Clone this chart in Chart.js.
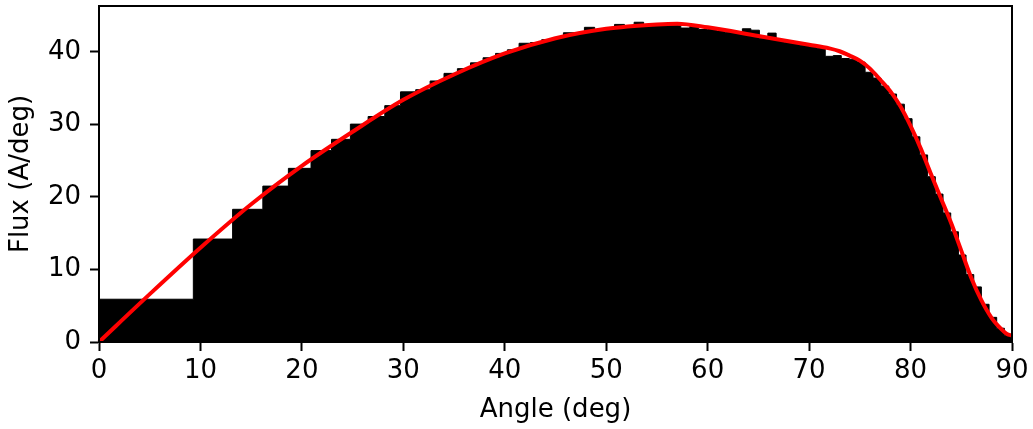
<!DOCTYPE html>
<html>
<head>
<meta charset="utf-8">
<script src="https://cdn.jsdelivr.net/npm/chart.js@4.4.1/dist/chart.umd.min.js"></script>
<style>
  html, body { margin: 0; padding: 0; background: #fff; }
</style>
</head>
<body>
<canvas id="flux" width="1033" height="429"></canvas>
<script>
// bin edges (deg)
var binEdges = [0, 9.30, 13.17, 16.15, 18.67, 20.90, 22.92, 24.78, 26.53, 28.17, 29.72,
  31.22, 32.64, 34.01, 35.33, 36.62, 37.86, 39.09, 40.26, 41.41, 42.53,
  43.64, 44.72, 45.78, 46.82, 47.85, 48.86, 49.85, 50.82, 51.80, 52.75,
  53.69, 54.62, 55.54, 56.45, 57.35, 58.24, 59.12, 60.00, 60.87, 61.73,
  62.58, 63.42, 64.26, 65.10, 65.93, 66.75, 67.57, 68.38, 69.19, 69.99,
  70.80, 71.59, 72.38, 73.17, 73.96, 74.74, 75.52, 76.30, 77.08, 77.85,
  78.62, 79.39, 80.15, 80.92, 81.68, 82.44, 83.20, 83.96, 84.72, 85.47,
  86.23, 86.98, 87.74, 88.49, 89.25, 90];

// histogram heights (A/deg), one per bin
var binFlux = [5.9, 14.2, 18.3, 21.5, 23.95, 26.4, 27.95, 30.05, 31.1, 32.6,
  34.5, 34.8, 36.0, 37.05, 37.7, 38.5, 39.2, 39.8, 40.3, 41.2,
  41.3, 41.7, 42.0, 42.65, 42.6, 43.4, 43.0, 43.2, 43.8, 43.5,
  44.1, 43.6, 43.7, 43.8, 43.7, 43.3, 43.5, 43.1, 43.1, 42.9,
  42.7, 42.6, 43.2, 43.0, 41.9, 42.6, 41.6, 41.3, 41.1, 40.9,
  40.7, 40.5, 39.4, 39.5, 39.1, 39.0, 38.6, 37.2, 36.4, 35.3,
  34.2, 32.8, 30.8, 28.3, 25.8, 22.8, 20.4, 17.8, 15.2, 12.0,
  9.3, 7.6, 5.2, 3.4, 1.9, 0.9];

// smooth model curve
var curveAngle = [0, 5, 10, 15, 20, 25, 30, 35, 40, 45, 50, 55, 57, 60, 65, 70, 72, 73, 74,
  75, 76, 77, 78, 79, 80, 81, 82, 83, 84, 85, 86, 87, 88, 89, 89.5, 90];
var curveFlux = [0, 6.6, 13.0, 19.0, 24.3, 29.0, 33.4, 36.9, 39.8, 41.9, 43.2, 43.8, 43.9, 43.4,
  42.2, 41.0, 40.5, 40.1, 39.5, 38.8, 37.7, 36.2, 34.6, 32.5, 29.8, 26.7, 23.2, 19.8,
  16.4, 12.6, 8.8, 5.7, 3.3, 1.7, 1.1, 0.9];

var xTicks = [0, 10, 20, 30, 40, 50, 60, 70, 80, 90];
var yTicks = [0, 10, 20, 30, 40];

var histPts = [];
for (var i = 0; i < binFlux.length; i++) {
  histPts.push({x: binEdges[i], y: binFlux[i]});
}
histPts.push({x: binEdges[binEdges.length - 1], y: binFlux[binFlux.length - 1]});

var curvePts = curveAngle.map(function(a, i) { return {x: a, y: curveFlux[i]}; });

var font = {family: 'DejaVu Sans', size: 26};

// full box round the plot, like matplotlib spines
var frame = {
  id: 'frame',
  afterDraw: function(chart) {
    var a = chart.chartArea, c = chart.ctx;
    c.save();
    c.strokeStyle = '#000';
    c.lineWidth = 2;
    c.strokeRect(a.left, a.top, a.right - a.left, a.bottom - a.top);
    c.restore();
  }
};

function noPad(s) {
  s.paddingTop = 0; s.paddingBottom = 0; s.paddingLeft = 0; s.paddingRight = 0;
}

new Chart(document.getElementById('flux'), {
  type: 'line',
  data: {
    datasets: [
      {
        data: curvePts,
        borderColor: '#ff0000',
        borderWidth: 4,
        pointRadius: 0,
        fill: false,
        cubicInterpolationMode: 'monotone',
        clip: false,
        order: 0
      },
      {
        data: histPts,
        stepped: true,
        borderColor: '#000',
        borderWidth: 1,
        backgroundColor: '#000',
        pointRadius: 0,
        fill: 'origin',
        order: 1
      }
    ]
  },
  options: {
    responsive: false,
    animation: false,
    devicePixelRatio: 1,
    layout: {padding: {left: 0, right: 21, top: 6, bottom: 0}},
    plugins: {legend: {display: false}, tooltip: {enabled: false}},
    events: [],
    scales: {
      x: {
        type: 'linear',
        min: 0,
        max: 90,
        afterBuildTicks: function(s) { s.ticks = xTicks.map(function(v) { return {value: v}; }); },
        afterFit: function(s) { s.height = 87; noPad(s); },
        grid: {drawOnChartArea: false, tickLength: 9, tickWidth: 2, tickColor: '#000'},
        border: {display: true, color: '#000', width: 2},
        ticks: {color: '#000', font: font, padding: 5, maxRotation: 0},
        title: {display: true, text: 'Angle (deg)', color: '#000', font: font, padding: {top: 0, bottom: 3}}
      },
      y: {
        type: 'linear',
        min: 0,
        max: 46.34,
        afterBuildTicks: function(s) { s.ticks = yTicks.map(function(v) { return {value: v}; }); },
        afterFit: function(s) { s.width = 99; noPad(s); },
        grid: {drawOnChartArea: false, tickLength: 9, tickWidth: 2, tickColor: '#000'},
        border: {display: true, color: '#000', width: 2},
        ticks: {color: '#000', font: font, padding: 9},
        title: {display: true, text: 'Flux (A/deg)', color: '#000', font: font, padding: {top: 6, bottom: 0}}
      }
    }
  },
  plugins: [frame]
});
</script>
</body>
</html>
